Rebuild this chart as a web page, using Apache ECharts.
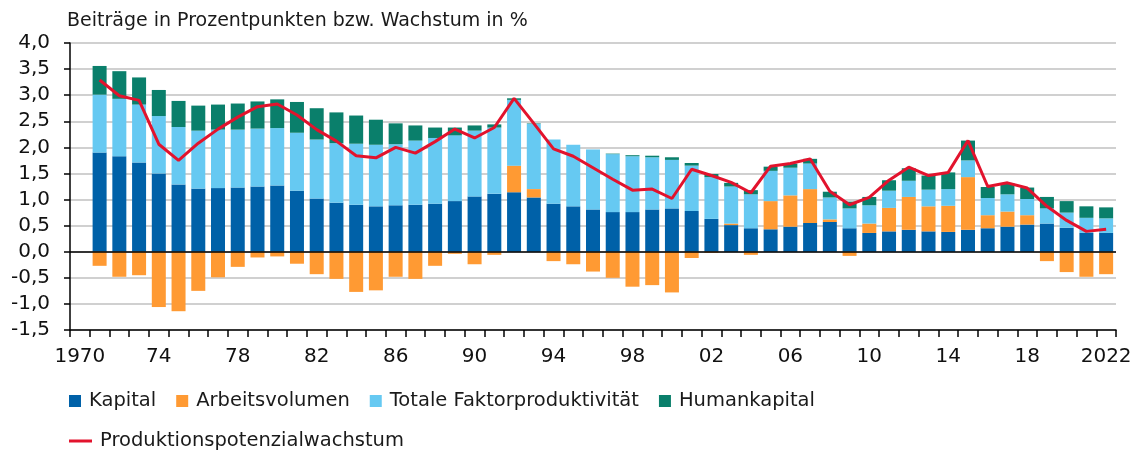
<!DOCTYPE html>
<html>
<head>
<meta charset="utf-8">
<title>Produktionspotenzial</title>
<script src="https://cdn.jsdelivr.net/npm/echarts@6/dist/echarts.min.js"></script>
<style>
  html, body { margin: 0; padding: 0; background: #fff; }
  #main { width: 1136px; height: 450px; }
</style>
</head>
<body>
<div id="main"></div>
<script>
// Jahre 1970 - 2022 (1970 ohne Werte)
var years = [];
for (var y = 1970; y <= 2022; y++) years.push(String(y));

var kapital = [null,
  1.90, 1.83, 1.71, 1.50, 1.29, 1.21, 1.22, 1.23, 1.25, 1.27, 1.17, 1.02,
  0.94, 0.90, 0.87, 0.89, 0.90, 0.92, 0.97, 1.06, 1.11, 1.14,
  1.04, 0.92, 0.87, 0.81, 0.76, 0.76, 0.81, 0.83, 0.78, 0.63,
  0.51, 0.45, 0.43, 0.48, 0.55, 0.57, 0.45, 0.36, 0.39, 0.42,
  0.39, 0.38, 0.42, 0.45, 0.48, 0.52, 0.54, 0.46, 0.36, 0.36];

var arbeitsvolumen = [null,
  -0.27, -0.48, -0.45, -1.06, -1.14, -0.75, -0.49, -0.29, -0.11, -0.09, -0.23, -0.43,
  -0.52, -0.77, -0.74, -0.48, -0.52, -0.27, -0.04, -0.24, -0.06, 0.51,
  0.16, -0.18, -0.24, -0.38, -0.50, -0.67, -0.64, -0.78, -0.12, -0.02,
  0.03, -0.06, 0.54, 0.60, 0.65, 0.05, -0.08, 0.18, 0.45, 0.63,
  0.48, 0.50, 1.01, 0.25, 0.29, 0.18, -0.18, -0.39, -0.48, -0.43];

var tfp = [null,
  1.11, 1.10, 1.11, 1.10, 1.10, 1.11, 1.12, 1.11, 1.11, 1.10, 1.11, 1.13,
  1.14, 1.17, 1.18, 1.17, 1.23, 1.26, 1.26, 1.26, 1.27, 1.26,
  1.25, 1.23, 1.18, 1.15, 1.11, 1.07, 1.00, 0.93, 0.87, 0.80,
  0.71, 0.65, 0.58, 0.53, 0.49, 0.42, 0.38, 0.35, 0.33, 0.31,
  0.32, 0.32, 0.32, 0.33, 0.33, 0.31, 0.29, 0.29, 0.29, 0.28];

var humankapital = [null,
  0.55, 0.53, 0.52, 0.50, 0.50, 0.48, 0.48, 0.50, 0.52, 0.55, 0.59, 0.60,
  0.59, 0.54, 0.48, 0.40, 0.29, 0.20, 0.15, 0.10, 0.06, 0.03,
  0.01, 0, 0, 0, 0.01, 0.02, 0.03, 0.05, 0.05, 0.06,
  0.07, 0.08, 0.08, 0.08, 0.09, 0.11, 0.13, 0.16, 0.20, 0.24,
  0.27, 0.32, 0.38, 0.21, 0.21, 0.22, 0.22, 0.22, 0.22, 0.21];

var potenzial = [null,
  3.29, 2.99, 2.90, 2.06, 1.75, 2.08, 2.35, 2.58, 2.78, 2.83, 2.62, 2.34,
  2.12, 1.84, 1.80, 2.00, 1.89, 2.11, 2.35, 2.18, 2.38, 2.94,
  2.46, 1.97, 1.83, 1.61, 1.39, 1.18, 1.20, 1.02, 1.58, 1.46,
  1.33, 1.13, 1.64, 1.69, 1.78, 1.16, 0.90, 1.04, 1.37, 1.62,
  1.46, 1.52, 2.13, 1.25, 1.32, 1.22, 0.87, 0.60, 0.39, 0.43];

var FONT = 'DejaVu Sans';

var chartDom = document.getElementById('main');
var myChart = echarts.init(chartDom);

function barSeries(name, data, color) {
  return {
    name: name,
    type: 'bar',
    stack: 'summe',
    barWidth: 14,
    data: data,
    itemStyle: { color: color },
    emphasis: { disabled: true }
  };
}

var option = {
  animation: false,
  textStyle: { fontFamily: FONT },
  title: {
    text: 'Beiträge in Prozentpunkten bzw. Wachstum in %',
    left: 62,
    top: 7,
    textStyle: { fontFamily: FONT, fontSize: 19, fontWeight: 'normal', color: '#1a1a1a' }
  },
  grid: { left: 70, right: 20, top: 43, bottom: 120, containLabel: false },
  legend: [
    {
      data: ['Kapital', 'Arbeitsvolumen', 'Totale Faktorproduktivität', 'Humankapital'],
      left: 64,
      top: 386,
      icon: 'rect',
      itemWidth: 12,
      itemHeight: 12,
      itemGap: 20,
      textStyle: { fontFamily: FONT, fontSize: 19.5, color: '#1a1a1a', padding: [0, 0, 0, 3] }
    },
    {
      data: ['Produktionspotenzialwachstum'],
      left: 64,
      top: 426,
      icon: 'rect',
      itemWidth: 23,
      itemHeight: 3,
      textStyle: { fontFamily: FONT, fontSize: 19.5, color: '#1a1a1a', padding: [0, 0, 0, 3] }
    }
  ],
  xAxis: {
    type: 'category',
    data: years,
    boundaryGap: true,
    axisLine: { onZero: false, lineStyle: { color: '#000', width: 1.5 } },
    axisTick: { show: true, interval: 0, length: 7, lineStyle: { color: '#000', width: 1.5 } },
    axisLabel: {
      interval: 3,
      margin: 17,
      fontFamily: FONT,
      fontSize: 20,
      color: '#111',
      formatter: function (v) {
        if (v === '1970' || v === '2022') return v;
        return v.slice(2);
      }
    }
  },
  yAxis: {
    type: 'value',
    min: -1.5,
    max: 4,
    interval: 0.5,
    axisLine: { show: true, lineStyle: { color: '#000', width: 1.5 } },
    axisTick: { show: true, length: 6, lineStyle: { color: '#000', width: 1.5 } },
    axisLabel: {
      margin: 20,
      fontFamily: FONT,
      fontSize: 20,
      color: '#111',
      formatter: function (v) { return v.toFixed(1).replace('.', ','); }
    },
    splitLine: { lineStyle: { color: '#c0c0c0', width: 1.5 } }
  },
  series: [
    barSeries('Kapital', kapital, '#0061a8'),
    barSeries('Arbeitsvolumen', arbeitsvolumen, '#ff9a33'),
    barSeries('Totale Faktorproduktivität', tfp, '#66c9f2'),
    barSeries('Humankapital', humankapital, '#0a7f6b'),
    {
      name: 'Produktionspotenzialwachstum',
      type: 'line',
      data: potenzial,
      symbol: 'none',
      z: 5,
      itemStyle: { color: '#e2132d' },
      lineStyle: { color: '#e2132d', width: 3 },
      emphasis: { disabled: true },
      markLine: {
        silent: true,
        symbol: 'none',
        label: { show: false },
        lineStyle: { color: '#000', width: 1.5, type: 'solid' },
        data: [{ yAxis: 0 }]
      }
    }
  ]
};

myChart.setOption(option);
</script>
</body>
</html>
